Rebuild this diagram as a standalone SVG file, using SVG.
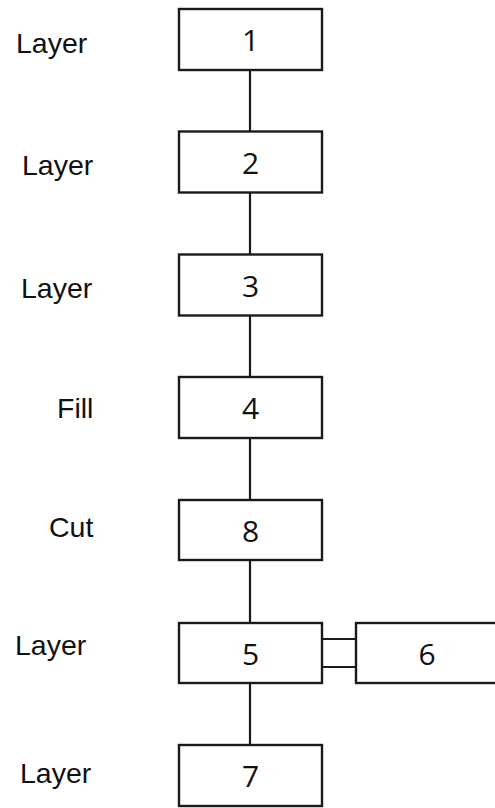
<svg xmlns="http://www.w3.org/2000/svg" width="495" height="808" viewBox="0 0 495 808">
<style>
.box{fill:#fff;stroke:#1a1a1a;stroke-width:2.4}
.num{font-family:"Open Sans","DejaVu Sans",sans-serif;font-size:30px;fill:#111;text-anchor:middle}
.lbl{font-family:"Liberation Sans",Arial,sans-serif;font-size:28.5px;fill:#111}
.con{stroke:#1a1a1a;stroke-width:2.2;fill:none}
</style>
<rect width="495" height="808" fill="#fff"/>
<g id="connectors">
<line class="con" x1="250" y1="70" x2="250" y2="131.5"/>
<line class="con" x1="250" y1="192.5" x2="250" y2="254.5"/>
<line class="con" x1="250" y1="315.5" x2="250" y2="377"/>
<line class="con" x1="250" y1="438" x2="250" y2="500"/>
<line class="con" x1="250" y1="560" x2="250" y2="623"/>
<line class="con" x1="250" y1="683" x2="250" y2="745"/>
<line class="con" x1="322" y1="639" x2="356" y2="639"/>
<line class="con" x1="322" y1="667" x2="356" y2="667"/>
</g>
<g id="n1"><rect class="box" x="179" y="9" width="143" height="61"/><text class="num" x="250.5" y="51">1</text></g>
<g id="n2"><rect class="box" x="179" y="131.5" width="143" height="61"/><text class="num" x="250.5" y="173.5">2</text></g>
<g id="n3"><rect class="box" x="179" y="254.5" width="143" height="61"/><text class="num" x="250.5" y="296.5">3</text></g>
<g id="n4"><rect class="box" x="179" y="377" width="143" height="61"/><text class="num" x="250.5" y="419">4</text></g>
<g id="n8"><rect class="box" x="179" y="500" width="143" height="60"/><text class="num" x="250.5" y="541.5">8</text></g>
<g id="n5"><rect class="box" x="179" y="623" width="143" height="60"/><text class="num" x="250.5" y="664.5">5</text></g>
<g id="n6"><rect class="box" x="356" y="623" width="145" height="60"/><text class="num" x="427" y="664.5">6</text></g>
<g id="n7"><rect class="box" x="179" y="745" width="143" height="61"/><text class="num" x="250.5" y="787">7</text></g>
<g id="labels">
<text class="lbl" x="16" y="53">Layer</text>
<text class="lbl" x="22" y="175">Layer</text>
<text class="lbl" x="21" y="298">Layer</text>
<text class="lbl" x="57" y="418">Fill</text>
<text class="lbl" x="49" y="537">Cut</text>
<text class="lbl" x="15" y="655">Layer</text>
<text class="lbl" x="20" y="783">Layer</text>
</g>
</svg>
